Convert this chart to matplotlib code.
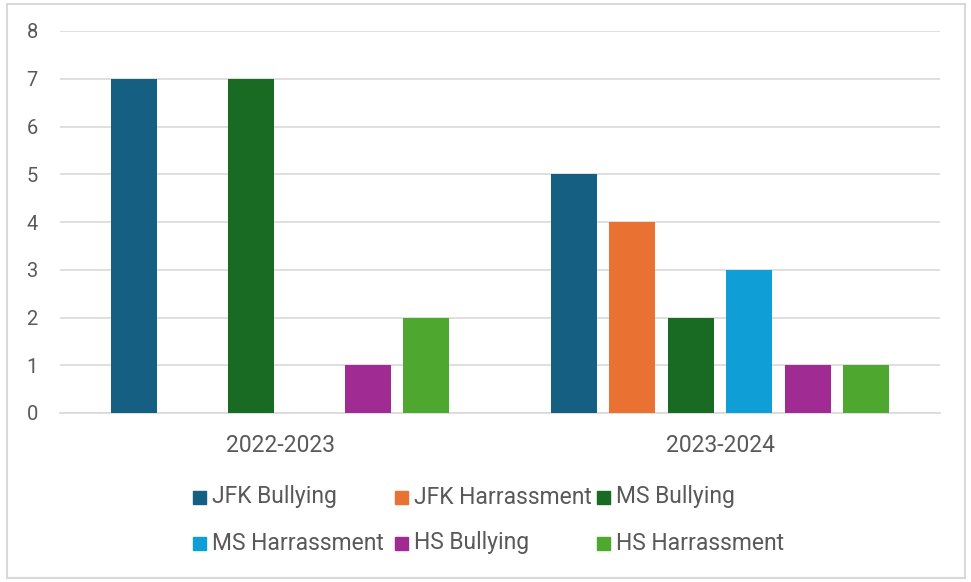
import numpy as np
import matplotlib
matplotlib.use('Agg')
import matplotlib.pyplot as plt
from matplotlib.patches import Rectangle

plt.rcParams['font.family'] = ['Roboto', 'DejaVu Sans']

# Incidents by school year
years = ['2022-2023', '2023-2024']
series = ['JFK Bullying', 'JFK Harrassment', 'MS Bullying',
          'MS Harrassment', 'HS Bullying', 'HS Harrassment']
jfk_bullying = [7, 5]
jfk_harrassment = [0, 4]
ms_bullying = [7, 2]
ms_harrassment = [0, 3]
hs_bullying = [1, 1]
hs_harrassment = [2, 1]
values = [jfk_bullying, jfk_harrassment, ms_bullying,
          ms_harrassment, hs_bullying, hs_harrassment]
colors = ['#156082', '#E97132', '#196B24', '#0F9ED5', '#A02B93', '#4EA72E']

text_color = '#595959'
grid_color = '#D9D9D9'

fig = plt.figure(figsize=(9.71, 5.82), dpi=100)
ax = fig.add_axes([60 / 971, 1 - 413 / 582, 880 / 971, 382 / 582])

x = np.arange(len(years))
step = 58.5 / 440
width = 46 / 440
for i, (vals, c) in enumerate(zip(values, colors)):
    ax.bar(x + (i - 2.5) * step, vals, width=width, color=c, zorder=3)

ax.set_xlim(-0.5, 1.5)
ax.set_ylim(0, 8)
ax.set_yticks(range(0, 9))
ax.yaxis.grid(True, color=grid_color, linewidth=1.2, zorder=0)
ax.set_xticks(x)
ax.set_xticklabels(years)
ax.tick_params(axis='y', length=0, labelsize=14.5, labelcolor=text_color, pad=16)
ax.tick_params(axis='x', length=0, labelsize=16.5, labelcolor=text_color, pad=15)
for side in ['top', 'right', 'left']:
    ax.spines[side].set_visible(False)
ax.spines['bottom'].set_color(grid_color)
ax.spines['bottom'].set_linewidth(1.2)

# legend laid out in two rows of three
for i, (name, c) in enumerate(zip(series, colors)):
    row, col = divmod(i, 3)
    lx = (193 + col * 202) / 971
    ly = 1 - (497 + row * 46) / 582
    fig.add_artist(Rectangle((lx, ly - 6.5 / 582), 13 / 971, 13 / 582,
                             transform=fig.transFigure, color=c))
    fig.text(lx + 19 / 971, ly, name, fontsize=16.5, color=text_color,
             va='center', ha='left')

# outer chart border
fig.add_artist(Rectangle((7 / 971, 4 / 582), 958 / 971, 574 / 582,
                         transform=fig.transFigure, fill=False,
                         edgecolor=grid_color, linewidth=1.5))

fig.savefig('out.png', dpi=100)
